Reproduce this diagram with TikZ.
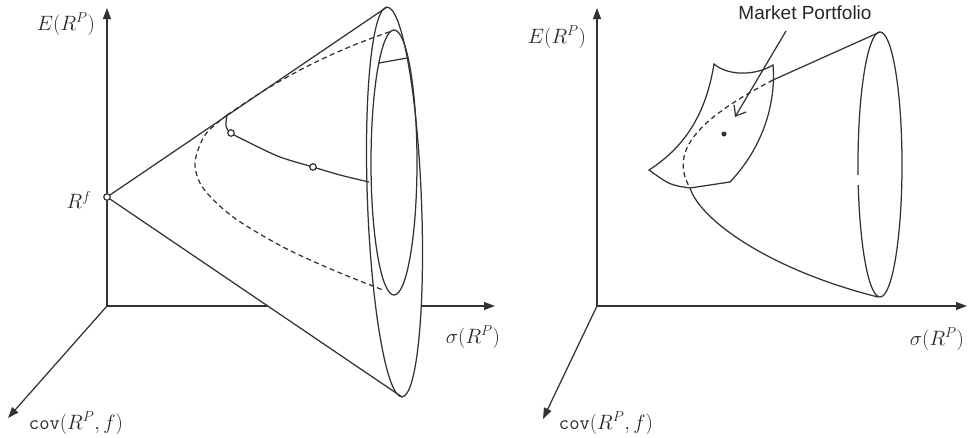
\documentclass[tikz,border=0pt]{standalone}
\usepackage{fontspec}
\newfontfamily\arialfont{Liberation Sans}
\usetikzlibrary{arrows.meta}
\begin{document}
\begin{tikzpicture}[x=1pt,y=-1pt,
  ln/.style={line width=1.25pt, draw=black!80},
  axis/.style={ln,-{Triangle[length=11pt,width=8pt]}},
  hid/.style={ln,dash pattern=on 5pt off 3.5pt},
  lab/.style={font=\fontsize{20}{24}\selectfont, inner sep=0pt, text=black!85},
  ring/.style={circle, draw=black!80, line width=1.2pt, inner sep=0pt, minimum size=6.5pt, fill=white},
  dotn/.style={circle, fill=black!80, inner sep=0pt, minimum size=5pt}]
\useasboundingbox (0,0) rectangle (969,437);
% ---------- left panel ----------
\coordinate (O1) at (107,306);
\coordinate (Y1) at (107,8);
\coordinate (X1) at (495,306);
\coordinate (Z1) at (8,418);
\coordinate (X1a) at (268,306);
\coordinate (X1b) at (421,306);
\coordinate (T1) at (387,7);
\coordinate (B1) at (402,397);
\coordinate (A1) at (107,197);
\draw[axis] (O1) -- (Y1);
\draw[ln] (O1) -- (X1a);
\draw[axis] (X1b) -- (X1);
\draw[axis] (O1) -- (Z1);
\draw[ln] (A1) -- (T1);
\draw[ln] (A1) -- (B1);
\draw[ln, rotate around={2.2:(394.5,202)}] (394.5,202) ellipse (27 and 195);
\draw[ln] (394,162.5) ellipse (23 and 132.5);
\draw[ln] (379,63) -- (407,58);
\draw[hid] (227,115) .. controls (250,100) and (300,62) .. (392,31);
\draw[hid] plot[smooth] coordinates {(227,115) (205,135) (195,163) (203,188) (233,217) (283,247) (333,270) (383,290)};
\draw[ln] plot[smooth] coordinates {(227,115) (226,126) (231,133) (250,143) (280,157) (313,167) (340,175) (369,182)};
\node[ring] (Rf) at (A1) {};
\node[ring] (P1) at (231,133) {};
\node[ring] (P2) at (313,167) {};
\node[lab] (EL1) at (66,24) {$E(R^P)$};
\node[lab] (SL1) at (473,337) {$\sigma(R^P)$};
\node[lab] (CL1) at (76,423) {$\mathtt{cov}(R^P,f)$};
\node[lab] (RL) at (79,200) {$R^f$};
% ---------- right panel ----------
\coordinate (O2) at (597,306);
\coordinate (Y2) at (597,8);
\coordinate (X2) at (967,306);
\coordinate (Z2) at (543,419);
\draw[axis] (O2) -- (Y2);
\draw[axis] (O2) -- (X2);
\draw[axis] (O2) -- (Z2);
\draw[ln] (880,164.5) ellipse (22 and 132.5);
\draw[white, line width=2.5pt] (858,175) -- (858,185);
\draw[ln] (880,32) -- (773,80);
\draw[hid] (773,80) .. controls (700,118) and (668,150) .. (690,188);
\draw[ln] (690,188) .. controls (700,220) and (770,270) .. (878,297);
\draw[ln] (714,64) .. controls (728,76) and (755,76) .. (773,65)
  .. controls (776,100) and (765,145) .. (730,182)
  -- (690,188) .. controls (670,185) .. (649,170)
  .. controls (680,150) and (705,120) .. (714,64) -- cycle;
\node[dotn] (MP) at (724,134) {};
\node[font=\arialfont\fontsize{19}{22}\selectfont, inner sep=0pt, text=black!85] (MT) at (805,13) {Market Portfolio};
\coordinate (MA) at (786,31);
\coordinate (MB) at (735,117);
\draw[ln, -{Straight Barb[length=9pt,width=14pt]}] (MA) -- (MB);
\node[lab] (EL2) at (557,37) {$E(R^P)$};
\node[lab] (SL2) at (937,339) {$\sigma(R^P)$};
\node[lab] (CL2) at (606,423) {$\mathtt{cov}(R^P,f)$};
\end{tikzpicture}
\end{document}
